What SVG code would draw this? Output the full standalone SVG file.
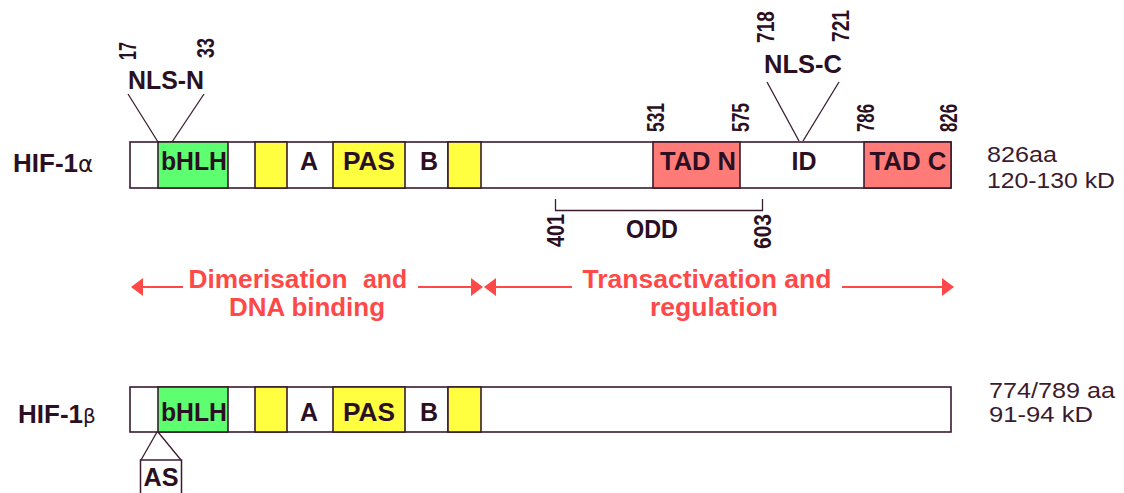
<svg xmlns="http://www.w3.org/2000/svg" width="1124" height="493" viewBox="0 0 1124 493">
  <style>
    .seg { stroke: #3a1b30; stroke-width: 1.6; }
    .w { fill: #ffffff; }
    .g { fill: #5dff70; }
    .y { fill: #ffff40; }
    .r { fill: #ff7b78; }
    .lbl { font-family: "Liberation Sans", Arial, sans-serif; font-weight: bold; font-size: 25px; fill: #2b0f22; text-anchor: middle; }
    .num { font-family: "Liberation Sans", Arial, sans-serif; font-weight: bold; font-size: 23px; fill: #2b0f22; }
    .name { font-family: "Liberation Sans", Arial, sans-serif; font-weight: bold; font-size: 26px; fill: #2b0f22; }
    .greek { font-family: "DejaVu Sans", sans-serif; font-weight: normal; }
    .info { font-family: "Liberation Sans", Arial, sans-serif; font-size: 22px; fill: #3a1b30; }
    .red { font-family: "Liberation Sans", Arial, sans-serif; font-weight: bold; font-size: 25px; fill: #ff4848; text-anchor: middle; }
    .thin { stroke: #3a1b30; stroke-width: 1.3; fill: none; }
    .arrow { stroke: #ff4848; stroke-width: 2.2; fill: none; }
  </style>
  <defs>
    <marker id="head" viewBox="0 0 12 18" refX="11" refY="9" markerWidth="12" markerHeight="18" markerUnits="userSpaceOnUse" orient="auto-start-reverse">
      <path d="M0,0 L12,9 L0,18 Z" fill="#ff4848"/>
    </marker>
  </defs>

  <rect width="1124" height="493" fill="#ffffff"/>

  <!-- HIF-1 alpha -->
  <g id="hif1a">
    <text class="name" x="13" y="172">HIF-1<tspan class="greek" font-size="23">α</tspan></text>
    <rect class="seg w" x="130" y="142" width="821" height="46"/>
    <rect class="seg g" x="158" y="142" width="70" height="46"/>
    <rect class="seg y" x="255" y="142" width="32" height="46"/>
    <rect class="seg y" x="333" y="142" width="72" height="46"/>
    <line class="seg" x1="448" y1="142" x2="448" y2="188"/>
    <rect class="seg y" x="448" y="142" width="33" height="46"/>
    <rect class="seg r" x="653" y="142" width="87" height="46"/>
    <rect class="seg r" x="864" y="142" width="87" height="46"/>
    <text class="lbl" x="194" y="170" textLength="66" lengthAdjust="spacingAndGlyphs">bHLH</text>
    <text class="lbl" x="309" y="170">A</text>
    <text class="lbl" x="369" y="170" textLength="52" lengthAdjust="spacingAndGlyphs">PAS</text>
    <text class="lbl" x="429" y="170">B</text>
    <text class="lbl" x="698" y="170" textLength="76" lengthAdjust="spacingAndGlyphs">TAD N</text>
    <text class="lbl" x="804" y="170" textLength="25" lengthAdjust="spacingAndGlyphs">ID</text>
    <text class="lbl" x="908" y="170" textLength="77" lengthAdjust="spacingAndGlyphs">TAD C</text>
    <text class="info" x="987" y="162" textLength="70" lengthAdjust="spacingAndGlyphs">826aa</text>
    <text class="info" x="987" y="188" textLength="128" lengthAdjust="spacingAndGlyphs">120-130 kD</text>
  </g>

  <!-- Nuclear localisation signal, N-terminal -->
  <g id="nls-n">
    <text class="name" x="166" y="89" text-anchor="middle" textLength="76" lengthAdjust="spacingAndGlyphs">NLS-N</text>
    <text class="num" transform="translate(136,60) rotate(-90)" textLength="18" lengthAdjust="spacingAndGlyphs">17</text>
    <text class="num" transform="translate(214,58) rotate(-90)" textLength="20" lengthAdjust="spacingAndGlyphs">33</text>
  </g>

  <!-- Nuclear localisation signal, C-terminal -->
  <g id="nls-c">
    <text class="name" x="803" y="73" text-anchor="middle" textLength="78" lengthAdjust="spacingAndGlyphs">NLS-C</text>
    <text class="num" transform="translate(774,43) rotate(-90)" textLength="32" lengthAdjust="spacingAndGlyphs">718</text>
    <text class="num" transform="translate(849,42) rotate(-90)" textLength="32" lengthAdjust="spacingAndGlyphs">721</text>
  </g>

  <!-- Residue positions above the bar -->
  <g id="positions">
    <text class="num" transform="translate(664,132) rotate(-90)" textLength="29" lengthAdjust="spacingAndGlyphs">531</text>
    <text class="num" transform="translate(749,132) rotate(-90)" textLength="29" lengthAdjust="spacingAndGlyphs">575</text>
    <text class="num" transform="translate(874,132) rotate(-90)" textLength="28" lengthAdjust="spacingAndGlyphs">786</text>
    <text class="num" transform="translate(957,132) rotate(-90)" textLength="28" lengthAdjust="spacingAndGlyphs">826</text>
  </g>

  <!-- Oxygen-dependent degradation domain -->
  <g id="odd">
    <path class="thin" d="M555.5,199 V210.5 H762.5 V199"/>
    <text class="name" x="652" y="238" text-anchor="middle" textLength="52" lengthAdjust="spacingAndGlyphs">ODD</text>
    <text class="num" transform="translate(564,247) rotate(-90)" textLength="33" lengthAdjust="spacingAndGlyphs">401</text>
    <text class="num" transform="translate(771,249) rotate(-90)" textLength="35" lengthAdjust="spacingAndGlyphs">603</text>
  </g>

  <!-- Functional regions -->
  <g id="regions">
    <text class="red" x="268" y="288" textLength="159" lengthAdjust="spacingAndGlyphs">Dimerisation</text>
    <text class="red" x="385" y="288" textLength="44" lengthAdjust="spacingAndGlyphs">and</text>
    <text class="red" x="307" y="316" textLength="156" lengthAdjust="spacingAndGlyphs">DNA binding</text>
    <text class="red" x="707" y="288" textLength="249" lengthAdjust="spacingAndGlyphs">Transactivation and</text>
    <text class="red" x="714" y="316" textLength="128" lengthAdjust="spacingAndGlyphs">regulation</text>
  </g>

  <!-- HIF-1 beta -->
  <g id="hif1b">
    <text class="name" x="18" y="423" font-size="25">HIF-1<tspan class="greek" font-size="20">β</tspan></text>
    <rect class="seg w" x="130" y="387" width="821" height="45"/>
    <rect class="seg g" x="158" y="387" width="70" height="45"/>
    <rect class="seg y" x="255" y="387" width="32" height="45"/>
    <rect class="seg y" x="333" y="387" width="72" height="45"/>
    <line class="seg" x1="448" y1="387" x2="448" y2="432"/>
    <rect class="seg y" x="448" y="387" width="33" height="45"/>
    <text class="lbl" x="194" y="421" textLength="66" lengthAdjust="spacingAndGlyphs">bHLH</text>
    <text class="lbl" x="309" y="421">A</text>
    <text class="lbl" x="369" y="421" textLength="52" lengthAdjust="spacingAndGlyphs">PAS</text>
    <text class="lbl" x="429" y="421">B</text>
    <text class="info" x="989" y="398" textLength="126" lengthAdjust="spacingAndGlyphs">774/789 aa</text>
    <text class="info" x="989" y="422" textLength="104" lengthAdjust="spacingAndGlyphs">91-94 kD</text>
  </g>

  <!-- Alternative splice site -->
  <g id="as">
    <rect x="140.5" y="460" width="41" height="40" fill="#ffffff" stroke="#3a1b30" stroke-width="1.5"/>
    <text class="lbl" x="161" y="486" textLength="35" lengthAdjust="spacingAndGlyphs">AS</text>
  </g>

  <!-- Connectors -->
  <g id="connectors">
    <line class="thin" x1="128" y1="94" x2="158" y2="142"/>
    <line class="thin" x1="204" y1="94" x2="172" y2="142"/>
    <line class="thin" x1="767" y1="82" x2="799" y2="141"/>
    <line class="thin" x1="839" y1="82" x2="803" y2="141"/>
    <line class="thin" x1="157" y1="432" x2="141" y2="460"/>
    <line class="thin" x1="158" y1="432" x2="181" y2="460"/>
    <line class="arrow" x1="183" y1="287" x2="132" y2="287" marker-end="url(#head)"/>
    <line class="arrow" x1="418" y1="287" x2="482" y2="287" marker-end="url(#head)"/>
    <line class="arrow" x1="572" y1="287" x2="485" y2="287" marker-end="url(#head)"/>
    <line class="arrow" x1="842" y1="287" x2="953" y2="287" marker-end="url(#head)"/>
  </g>
</svg>
